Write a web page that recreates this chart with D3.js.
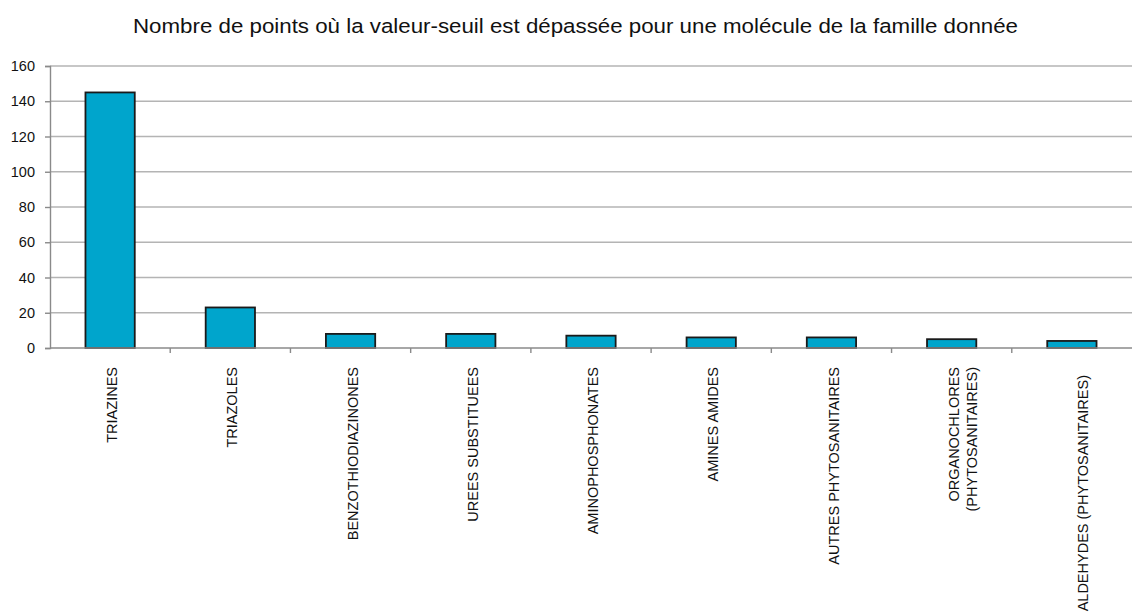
<!DOCTYPE html>
<html>
<head>
<meta charset="utf-8">
<script src="https://cdn.jsdelivr.net/npm/d3@7"></script>
<style>
  html, body { margin: 0; padding: 0; background: #fff; }
  svg { display: block; font-family: "Liberation Sans", Arial, sans-serif; }
</style>
</head>
<body>
<svg id="chart" width="1132" height="612"></svg>
<script>
// Pesticide families and number of sampling points above the threshold
const categories = [
  ["TRIAZINES"],
  ["TRIAZOLES"],
  ["BENZOTHIODIAZINONES"],
  ["UREES SUBSTITUEES"],
  ["AMINOPHOSPHONATES"],
  ["AMINES AMIDES"],
  ["AUTRES PHYTOSANITAIRES"],
  ["ORGANOCHLORES", "(PHYTOSANITAIRES)"],
  ["ALDEHYDES (PHYTOSANITAIRES)"]
];
const values = [145, 23, 8, 8, 7, 6, 6, 5, 4];
const yTicks = [0, 20, 40, 60, 80, 100, 120, 140, 160];
const title = "Nombre de points où la valeur-seuil est dépassée pour une molécule de la famille donnée";

const svg = d3.select("#chart");
const margin = { top: 66, right: 0, bottom: 264, left: 50 };
const width = 1132, height = 612;

const x = d3.scaleBand()
  .domain(d3.range(categories.length))
  .range([margin.left, width - margin.right])
  .paddingInner(0.59)
  .paddingOuter(0.295);

const y = d3.scaleLinear()
  .domain([0, 160])
  .range([height - margin.bottom, margin.top]);

// Title
svg.append("text")
  .attr("x", 133)
  .attr("y", 33)
  .attr("font-size", 20.5)
  .attr("textLength", 885)
  .attr("lengthAdjust", "spacingAndGlyphs")
  .attr("fill", "#111")
  .text(title);

// Horizontal gridlines
svg.append("g")
  .selectAll("line")
  .data(yTicks.filter(d => d > 0))
  .join("line")
  .attr("x1", margin.left)
  .attr("x2", width - margin.right)
  .attr("y1", d => y(d))
  .attr("y2", d => y(d))
  .attr("stroke", "#b4b4b4")
  .attr("stroke-width", 1.6);

// Bars
svg.append("g")
  .selectAll("rect")
  .data(values)
  .join("rect")
  .attr("x", (d, i) => x(i))
  .attr("y", d => y(d))
  .attr("width", x.bandwidth())
  .attr("height", d => y(0) - y(d))
  .attr("fill", "#00a5cc")
  .attr("stroke", "#1a1a1a")
  .attr("stroke-width", 1.8);

// Y axis
const yAxis = d3.axisLeft(y)
  .tickValues(yTicks)
  .tickSize(5)
  .tickPadding(10);
const gy = svg.append("g")
  .attr("transform", `translate(${margin.left},0)`)
  .call(yAxis);
gy.select(".domain").attr("stroke", "#8a8a8a").attr("stroke-width", 1.4);
gy.selectAll(".tick line").attr("stroke", "#8a8a8a").attr("stroke-width", 1.4);
gy.selectAll(".tick text")
  .attr("font-size", 14.5)
  .attr("font-family", "Liberation Sans, Arial, sans-serif")
  .attr("fill", "#111");

// X axis baseline with tick marks between categories
const bandStep = x.step();
const boundaries = d3.range(1, categories.length).map(i => margin.left + i * bandStep);
svg.append("line")
  .attr("x1", margin.left)
  .attr("x2", width - margin.right)
  .attr("y1", y(0))
  .attr("y2", y(0))
  .attr("stroke", "#8a8a8a")
  .attr("stroke-width", 1.4);
svg.append("g")
  .selectAll("line")
  .data(boundaries)
  .join("line")
  .attr("x1", d => d)
  .attr("x2", d => d)
  .attr("y1", y(0))
  .attr("y2", y(0) + 5)
  .attr("stroke", "#8a8a8a")
  .attr("stroke-width", 1.4);

// Rotated category labels; an over-long single line is pushed down the wrap slot
const lineGap = 18;
const labelTop = 367;
const maxLabelLength = 225;
const labels = svg.append("g")
  .selectAll("g")
  .data(categories)
  .join("g")
  .attr("transform", (d, i) => `translate(${x(i) + x.bandwidth() / 2 + 2},${labelTop}) rotate(-90)`);
labels.each(function (lines) {
  const g = d3.select(this);
  lines.forEach((t, k) => {
    const txt = g.append("text")
      .attr("x", 0)
      .attr("y", k * lineGap)
      .attr("dy", "0.35em")
      .attr("text-anchor", "end")
      .attr("font-size", 14.5)
      .attr("fill", "#111")
      .text(t);
    if (lines.length === 1 && txt.node().getComputedTextLength() > maxLabelLength) {
      txt.attr("x", -8).attr("y", lineGap / 2);
    }
  });
});
</script>
</body>
</html>
